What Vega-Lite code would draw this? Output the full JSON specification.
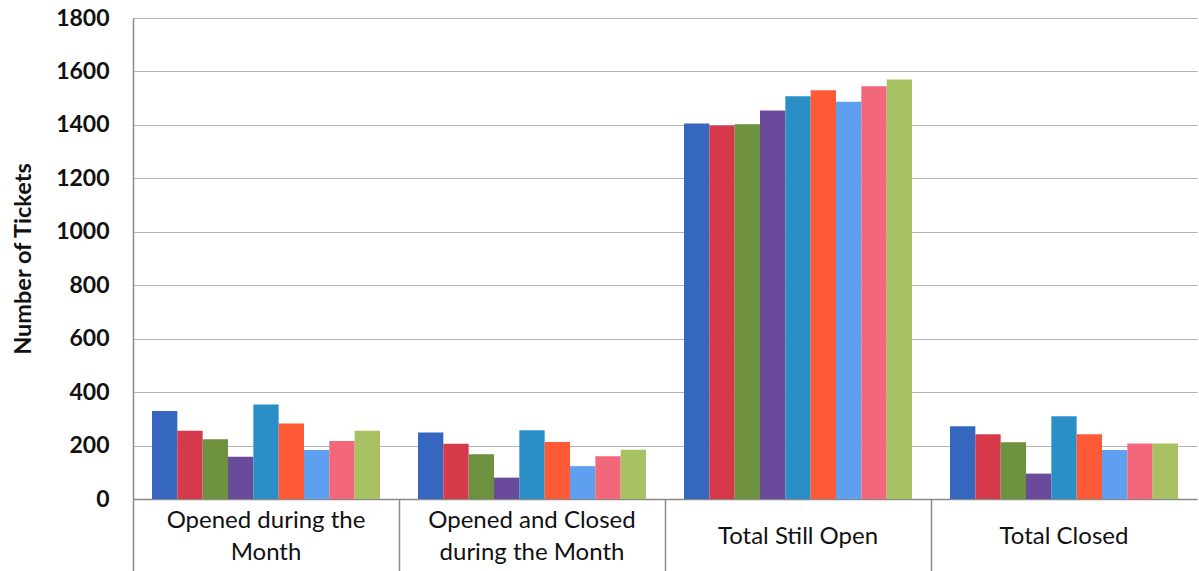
{
  "$schema": "https://vega.github.io/schema/vega-lite/v6.json",
  "width": 1064,
  "height": 481,
  "autosize": {"type": "none"},
  "padding": {"left": 133, "top": 18, "right": 2, "bottom": 72},
  "background": "white",
  "config": {"view": {"stroke": null}, "font": "Lato"},
  "data": {"values": [
    {"cat": "Opened during the Month", "s": "S1", "v": 329},
    {"cat": "Opened during the Month", "s": "S2", "v": 255},
    {"cat": "Opened during the Month", "s": "S3", "v": 224},
    {"cat": "Opened during the Month", "s": "S4", "v": 158},
    {"cat": "Opened during the Month", "s": "S5", "v": 354},
    {"cat": "Opened during the Month", "s": "S6", "v": 283},
    {"cat": "Opened during the Month", "s": "S7", "v": 183},
    {"cat": "Opened during the Month", "s": "S8", "v": 217},
    {"cat": "Opened during the Month", "s": "S9", "v": 255},
    {"cat": "Opened and Closed during the Month", "s": "S1", "v": 249},
    {"cat": "Opened and Closed during the Month", "s": "S2", "v": 207},
    {"cat": "Opened and Closed during the Month", "s": "S3", "v": 167},
    {"cat": "Opened and Closed during the Month", "s": "S4", "v": 80},
    {"cat": "Opened and Closed during the Month", "s": "S5", "v": 257},
    {"cat": "Opened and Closed during the Month", "s": "S6", "v": 213},
    {"cat": "Opened and Closed during the Month", "s": "S7", "v": 123},
    {"cat": "Opened and Closed during the Month", "s": "S8", "v": 160},
    {"cat": "Opened and Closed during the Month", "s": "S9", "v": 184},
    {"cat": "Total Still Open", "s": "S1", "v": 1405},
    {"cat": "Total Still Open", "s": "S2", "v": 1398},
    {"cat": "Total Still Open", "s": "S3", "v": 1402},
    {"cat": "Total Still Open", "s": "S4", "v": 1454},
    {"cat": "Total Still Open", "s": "S5", "v": 1507},
    {"cat": "Total Still Open", "s": "S6", "v": 1530},
    {"cat": "Total Still Open", "s": "S7", "v": 1487},
    {"cat": "Total Still Open", "s": "S8", "v": 1545},
    {"cat": "Total Still Open", "s": "S9", "v": 1570},
    {"cat": "Total Closed", "s": "S1", "v": 272},
    {"cat": "Total Closed", "s": "S2", "v": 242},
    {"cat": "Total Closed", "s": "S3", "v": 212},
    {"cat": "Total Closed", "s": "S4", "v": 95},
    {"cat": "Total Closed", "s": "S5", "v": 310},
    {"cat": "Total Closed", "s": "S6", "v": 242},
    {"cat": "Total Closed", "s": "S7", "v": 183},
    {"cat": "Total Closed", "s": "S8", "v": 208},
    {"cat": "Total Closed", "s": "S9", "v": 208}
  ]},
  "mark": {"type": "bar"},
  "encoding": {
    "x": {
      "field": "cat", "type": "nominal", "sort": null,
      "scale": {"paddingInner": 0, "paddingOuter": 0},
      "axis": {
        "title": null, "labelAngle": 0, "bandPosition": 0,
        "tickSize": 72, "tickColor": "#8a8a8a", "tickWidth": 1.5,
        "domainColor": "#8a8a8a", "domainWidth": 1.5,
        "labelPadding": -51, "labelBaseline": "middle", "labelLimit": 300,
        "labelFontSize": 24, "labelColor": "#111111", "labelLineHeight": 16,
        "labelFont": "Lato", "labelFontWeight": "normal",
        "labelExpr": "datum.value == 'Opened during the Month' ? ['Opened during the', '\u200b', 'Month'] : datum.value == 'Opened and Closed during the Month' ? ['Opened and Closed', '\u200b', 'during the Month'] : ['\u200b', datum.value]"
      }
    },
    "xOffset": {
      "field": "s", "type": "nominal",
      "scale": {"paddingInner": 0, "paddingOuter": 0.75}
    },
    "y": {
      "field": "v", "type": "quantitative",
      "scale": {"domain": [0, 1800], "nice": false},
      "axis": {
        "title": "Number of Tickets", "titleFontSize": 23.5, "titleFontWeight": "bold",
        "titleFont": "Lato", "titleColor": "#111111", "titlePadding": 20,
        "values": [0, 200, 400, 600, 800, 1000, 1200, 1400, 1600, 1800],
        "format": "d",
        "labelFontSize": 23, "labelFontWeight": "bold", "labelFont": "Lato",
        "labelColor": "#111111", "labelPadding": 24, "ticks": false,
        "gridColor": "#b4b4b4", "gridWidth": 1.2,
        "domainColor": "#8a8a8a", "domainWidth": 1.5
      }
    },
    "color": {
      "field": "s", "type": "nominal", "legend": null,
      "scale": {
        "domain": ["S1", "S2", "S3", "S4", "S5", "S6", "S7", "S8", "S9"],
        "range": ["#3566c0", "#d63a4a", "#6e9140", "#6a4a9a", "#2b8fc7", "#ff5a36", "#5f9ff0", "#f2677a", "#a8c263"]
      }
    }
  }
}
